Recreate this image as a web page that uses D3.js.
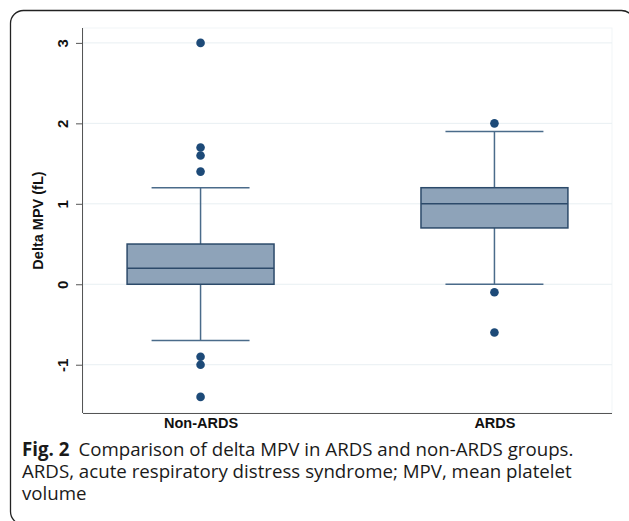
<!DOCTYPE html>
<html>
<head>
<meta charset="utf-8">
<script src="https://cdn.jsdelivr.net/npm/d3@7"></script>
<style>
  body { margin: 0; background: #fff; }
  svg { display: block; }
</style>
</head>
<body>
<svg id="chart" width="629" height="521"></svg>
<script>
// groups on the x axis
const groups = ["Non-ARDS", "ARDS"];
// box statistics: [lower whisker, Q1, median, Q3, upper whisker]
const lowerWhisker = [-0.7, 0.0];
const q1 = [0.0, 0.7];
const median = [0.2, 1.0];
const q3 = [0.5, 1.2];
const upperWhisker = [1.2, 1.9];
// outside values
const outliersNonArds = [3.0, 1.7, 1.6, 1.4, -0.9, -1.0, -1.4];
const outliersArds = [2.0, -0.1, -0.6];
const yTicks = [-1, 0, 1, 2, 3];

const svg = d3.select("#chart");

// frame around the figure
svg.append("rect")
  .attr("x", 10.5).attr("y", 10.5)
  .attr("width", 624).attr("height", 514)
  .attr("rx", 13).attr("ry", 13)
  .style("fill", "none")
  .style("stroke", "#222")
  .style("stroke-width", 1.3);

const plotL = 83, plotR = 612, plotT = 28, plotB = 413;

const x = d3.scalePoint().domain(groups).range([plotL, plotR]).padding(0.4);
const y = d3.scaleLinear().domain([-1.6, 3.185]).range([plotB, plotT]);
const step = x.step();

// faint plot region outline
svg.append("rect")
  .attr("x", plotL).attr("y", plotT)
  .attr("width", plotR - plotL).attr("height", plotB - plotT)
  .style("fill", "none").style("stroke", "#f1f5f7");

// grid lines
svg.append("g").selectAll("line")
  .data(yTicks)
  .enter().append("line")
  .attr("x1", plotL).attr("x2", plotR)
  .attr("y1", d => y(d)).attr("y2", d => y(d))
  .style("stroke", "#e8eff2").style("stroke-width", 1);

// y axis
const yAxis = svg.append("g")
  .attr("transform", `translate(${plotL},0)`)
  .call(d3.axisLeft(y).tickValues(yTicks).tickSize(7).tickPadding(6).tickFormat(d => String(d)));
yAxis.select(".domain").attr("d", `M-0.5,${plotT}V${plotB}`).style("stroke", "#555");
yAxis.selectAll(".tick line").style("stroke", "#555");
yAxis.selectAll(".tick text")
  .attr("x", null).attr("dy", null)
  .attr("transform", "translate(-15,0) rotate(-90)")
  .attr("text-anchor", "middle")
  .style("font-family", "'Liberation Sans', Arial, sans-serif")
  .style("font-size", "15px")
  .style("font-weight", "bold")
  .style("fill", "#111");

// x axis
const xAxis = svg.append("g")
  .attr("transform", `translate(0,${plotB})`)
  .call(d3.axisBottom(x).tickSize(0).tickPadding(5));
xAxis.select(".domain").attr("d", `M${plotL},0.5H${plotR}`).style("stroke", "#555");
xAxis.selectAll(".tick text")
  .style("font-family", "'Liberation Sans', Arial, sans-serif")
  .style("font-size", "14.5px")
  .style("font-weight", "bold")
  .style("fill", "#111");

// y axis title
svg.append("text")
  .attr("transform", `translate(42.5,${(plotT + plotB) / 2}) rotate(-90)`)
  .attr("text-anchor", "middle")
  .style("font-family", "'Liberation Sans', Arial, sans-serif")
  .style("font-size", "14.5px")
  .style("font-weight", "bold")
  .style("fill", "#111")
  .text("Delta MPV (fL)");

const boxes = groups.map((g, i) => ({
  g: g, lo: lowerWhisker[i], q1: q1[i], med: median[i], q3: q3[i], hi: upperWhisker[i]
}));
const boxW = step / 2, capW = step / 3;

const bx = svg.append("g").selectAll("g").data(boxes).enter().append("g");
// whiskers
bx.append("line")
  .attr("x1", d => x(d.g)).attr("x2", d => x(d.g))
  .attr("y1", d => y(d.q3)).attr("y2", d => y(d.hi))
  .style("stroke", "#4a6b8a").style("stroke-width", 1.5);
bx.append("line")
  .attr("x1", d => x(d.g)).attr("x2", d => x(d.g))
  .attr("y1", d => y(d.q1)).attr("y2", d => y(d.lo))
  .style("stroke", "#4a6b8a").style("stroke-width", 1.5);
// caps
bx.append("line")
  .attr("x1", d => x(d.g) - capW / 2).attr("x2", d => x(d.g) + capW / 2)
  .attr("y1", d => y(d.hi)).attr("y2", d => y(d.hi))
  .style("stroke", "#4a6b8a").style("stroke-width", 1.5);
bx.append("line")
  .attr("x1", d => x(d.g) - capW / 2).attr("x2", d => x(d.g) + capW / 2)
  .attr("y1", d => y(d.lo)).attr("y2", d => y(d.lo))
  .style("stroke", "#4a6b8a").style("stroke-width", 1.5);
// box
bx.append("rect")
  .attr("x", d => x(d.g) - boxW / 2)
  .attr("y", d => y(d.q3))
  .attr("width", boxW)
  .attr("height", d => y(d.q1) - y(d.q3))
  .style("fill", "#8ea3b9")
  .style("stroke", "#2c4a6a").style("stroke-width", 1.5);
// median
bx.append("line")
  .attr("x1", d => x(d.g) - boxW / 2).attr("x2", d => x(d.g) + boxW / 2)
  .attr("y1", d => y(d.med)).attr("y2", d => y(d.med))
  .style("stroke", "#2c4a6a").style("stroke-width", 1.5);

// outside values
const outliers = outliersNonArds.map(v => ({ g: groups[0], v: v }))
  .concat(outliersArds.map(v => ({ g: groups[1], v: v })));
svg.append("g").selectAll("circle")
  .data(outliers)
  .enter().append("circle")
  .attr("cx", d => x(d.g))
  .attr("cy", d => y(d.v))
  .attr("r", 4.3)
  .style("fill", "#1d4a78");

// caption, one text element per piece
function capText(tx, ty, str, bold) {
  return svg.append("text")
    .attr("x", tx).attr("y", ty)
    .style("font-family", "'Open Sans', sans-serif")
    .style("font-size", "18.7px")
    .style("font-weight", bold ? "bold" : "normal")
    .style("fill", "#1a1a1a")
    .text(str);
}
const figLabel = capText(22, 456, "Fig. 2", true);
const figW = figLabel.node().getComputedTextLength();
capText(22 + figW + 9, 456, "Comparison of delta MPV in ARDS and non-ARDS groups.", false);
capText(22, 478, "ARDS, acute respiratory distress syndrome; MPV, mean platelet", false);
capText(22, 500, "volume", false);
</script>
</body>
</html>
